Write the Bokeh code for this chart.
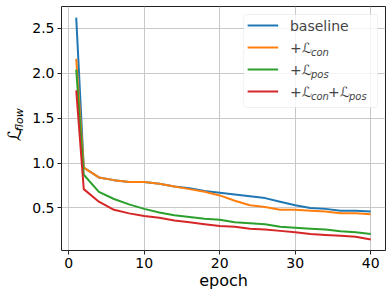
from bokeh.plotting import figure
from bokeh.models import (Range1d, FixedTicker, PrintfTickFormatter, Label, BoxAnnotation,
                          LinearAxis)
from bokeh.embed import file_html
from bokeh.resources import INLINE

epochs = [1, 2, 4, 6, 8, 10, 12, 14, 16, 18, 20, 22, 24, 26, 28, 30, 32, 34, 36, 38, 40]
baseline = [2.62, 0.95, 0.84, 0.81, 0.79, 0.79, 0.77, 0.74, 0.72, 0.69, 0.67, 0.65, 0.63, 0.61, 0.57, 0.53, 0.50, 0.49, 0.47, 0.47, 0.46]
l_con = [2.16, 0.95, 0.84, 0.81, 0.79, 0.79, 0.77, 0.74, 0.71, 0.68, 0.64, 0.58, 0.53, 0.51, 0.48, 0.48, 0.47, 0.46, 0.44, 0.44, 0.43]
l_pos = [2.04, 0.87, 0.68, 0.60, 0.54, 0.49, 0.45, 0.42, 0.40, 0.38, 0.37, 0.34, 0.33, 0.32, 0.29, 0.28, 0.27, 0.26, 0.24, 0.23, 0.21]
l_both = [1.81, 0.71, 0.57, 0.48, 0.44, 0.41, 0.39, 0.36, 0.34, 0.32, 0.30, 0.29, 0.27, 0.26, 0.245, 0.23, 0.21, 0.20, 0.19, 0.18, 0.15]

series = [
    (baseline, "#1f77b4", [("baseline", False)]),
    (l_con, "#ff7f0e", [("+ℒ", False), ("con", True)]),
    (l_pos, "#2ca02c", [("+ℒ", False), ("pos", True)]),
    (l_both, "#d62728", [("+ℒ", False), ("con", True), ("+ℒ", False), ("pos", True)]),
]
x_ticks = [0, 10, 20, 30, 40]
y_ticks = [0.5, 1.0, 1.5, 2.0, 2.5]

X0, X1 = -0.95, 41.95
Y0, Y1 = 0.0265, 2.7435

W, H = 390, 296
BL, BR, BT, BB = 56, 5, 6, 46
FONT = "DejaVu Sans"
NB = "\u00a0"

p = figure(width=W, height=H, output_backend="svg", toolbar_location=None,
           x_range=Range1d(X0, X1), y_range=Range1d(Y0, Y1),
           min_border_left=BL, min_border_right=BR, min_border_top=BT, min_border_bottom=BB)

# frame in figure pixels
FL, FR, FT, FB = BL, W - BR, BT, H - BB


def dx(px):
    return X0 + (px - FL) / (FR - FL) * (X1 - X0)


def dy(py):
    return Y0 + (FB - py) / (FB - FT) * (Y1 - Y0)


p.outline_line_color = "#222222"
p.outline_line_width = 1
p.background_fill_color = "white"
p.border_fill_color = "white"

for ax in (p.xaxis[0], p.yaxis[0]):
    ax.axis_line_color = None
    ax.major_tick_in = 0
    ax.major_tick_out = 4
    ax.major_tick_line_color = "#222222"
    ax.minor_tick_line_color = None
    ax.major_label_text_font = FONT
    ax.major_label_text_font_size = "14px"
    ax.major_label_text_color = "black"
    ax.major_label_standoff = 3

p.xaxis.ticker = FixedTicker(ticks=x_ticks)
p.yaxis.ticker = FixedTicker(ticks=y_ticks)
p.yaxis.formatter = PrintfTickFormatter(format="%.1f")
p.xaxis.axis_label = "epoch"
p.xaxis.axis_label_text_font = FONT
p.xaxis.axis_label_text_font_size = "16px"
p.xaxis.axis_label_text_font_style = "normal"
p.xaxis.axis_label_text_color = "black"
p.xaxis.axis_label_standoff = 0

# y label: subscript "flow" on the main axis, script L on an extra, tick-less axis
p.yaxis.axis_label = NB * 5 + "flow"
p.yaxis.axis_label_text_font = FONT
p.yaxis.axis_label_text_font_size = "11px"
p.yaxis.axis_label_text_font_style = "italic"
p.yaxis.axis_label_text_color = "black"
p.yaxis.axis_label_standoff = 3

lax = LinearAxis(ticker=FixedTicker(ticks=[]), axis_label="ℒ" + NB * 2,
                 axis_line_color=None, major_tick_out=0, major_tick_in=0,
                 minor_tick_line_color=None, major_label_text_font_size="0px",
                 axis_label_text_font=FONT, axis_label_text_font_size="18px",
                 axis_label_text_font_style="normal", axis_label_text_color="black",
                 axis_label_standoff=-14)
p.add_layout(lax, "left")

p.grid.grid_line_color = "#c8c8c8"
p.grid.grid_line_width = 1
p.xgrid.ticker = FixedTicker(ticks=x_ticks)
p.ygrid.ticker = FixedTicker(ticks=y_ticks)

for ys, color, _ in series:
    p.line(epochs, ys, line_color=color, line_width=2)

# legend
LB_L, LB_R, LB_T, LB_B = 241, 377, 14, 107
p.add_layout(BoxAnnotation(left=dx(LB_L), right=dx(LB_R), top=dy(LB_T), bottom=dy(LB_B),
                           fill_color="white", fill_alpha=0.8, line_color="#d0d0d0",
                           line_width=1, border_radius=3))
row_y = [25, 47, 69, 91]
for (ys, color, parts), ry in zip(series, row_y):
    p.line([dx(LB_L + 4), dx(LB_L + 35)], [dy(ry), dy(ry)], line_color=color, line_width=2,
           level="overlay")
    off = 0
    for txt, sub in parts:
        if sub:
            p.add_layout(Label(x=dx(LB_L + 47), y=dy(ry), x_offset=off, y_offset=-5, text=txt,
                               text_font=FONT, text_font_size="10px", text_font_style="italic",
                               text_align="left", text_baseline="middle", level="overlay"))
            off += 17
        else:
            p.add_layout(Label(x=dx(LB_L + 47), y=dy(ry), x_offset=off, text=txt,
                               text_font=FONT, text_font_size="14px",
                               text_align="left", text_baseline="middle", level="overlay"))
            off += 21

open("out.html", "w").write(file_html(p, INLINE))
